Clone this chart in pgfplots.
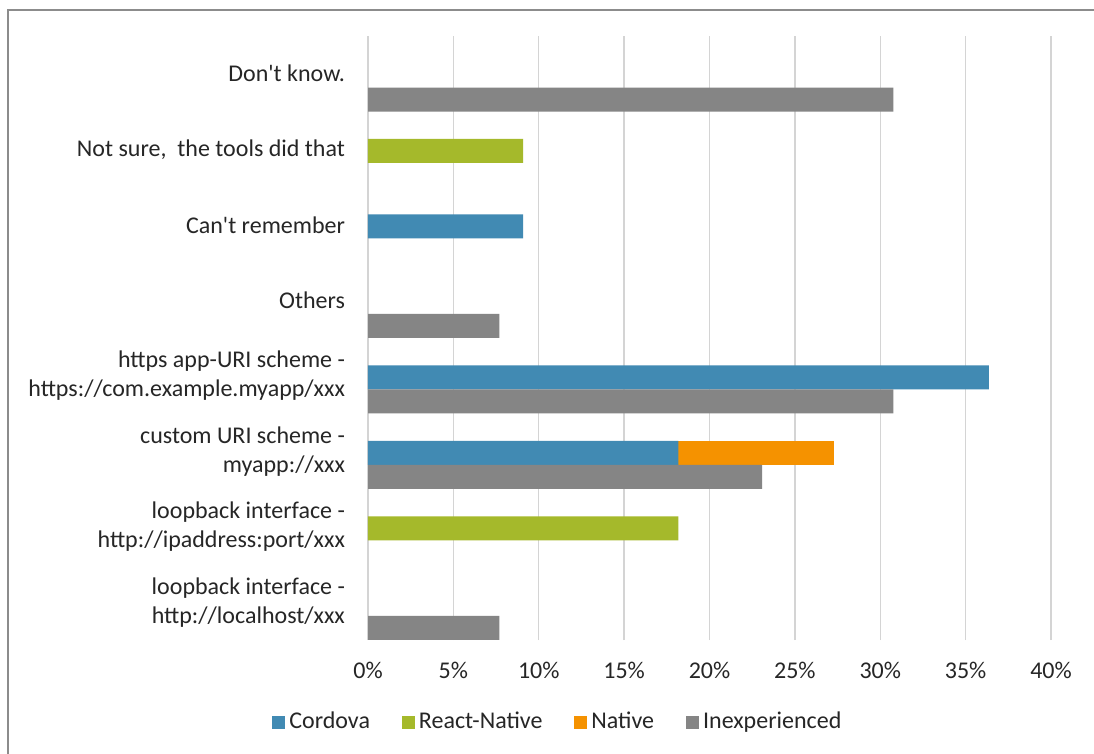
\documentclass[border=0pt]{standalone}
\usepackage{pgfplots}
\usepackage{pgfplotstable}
\pgfplotsset{compat=1.18}
\usepackage{fontspec}
\setmainfont{Carlito}
\definecolor{cordova}{HTML}{418AB3}
\definecolor{react}{HTML}{A5B92B}
\definecolor{native}{HTML}{F59200}
\definecolor{inexp}{HTML}{858585}
\definecolor{gridc}{HTML}{D4D4D4}
\definecolor{framec}{HTML}{8C8C8C}
\definecolor{txt}{HTML}{262626}

\pgfplotstableread{
y C R N
-0.023 0 0 0
0.977 0 18.18 0
1.977 18.18 0 9.09
2.977 36.36 0 0
3.977 0 0 0
4.977 9.09 0 0
5.977 0 9.09 0
6.977 0 0 0
}\stackdata

\pgfplotstableread{
y I
-0.341 7.69
1.659 23.08
2.659 30.77
3.659 7.69
6.659 30.77
}\inexpdata

\pgfplotsset{mybase/.style={
  width=341.5bp, height=302bp, scale only axis,
  xmin=0, xmax=40, ymin=-0.5, ymax=7.5,
  anchor=south west, at={(0bp,0bp)},
}}

\newcommand{\lbl}{\fontsize{12bp}{14.5bp}\selectfont}

\begin{document}
\begin{tikzpicture}
\useasboundingbox (-184bp,-57bp) rectangle (363bp,320bp);
\fill[white] (-184bp,-57bp) rectangle (363bp,320bp);
\draw[framec, line width=1bp] (-180bp,-60bp) -- (-180bp,315bp) -- (366bp,315bp);

\begin{axis}[mybase,
  xbar stacked, bar width=12bp,
  axis line style={draw=none},
  major tick length=0pt,
  xmajorgrids, grid style={gridc, line width=0.7bp},
  xtick={0,5,...,40},
  xticklabels={0\%,5\%,10\%,15\%,20\%,25\%,30\%,35\%,40\%},
  ytick={0,...,7},
  yticklabels={
    {loopback interface -\\http://localhost/xxx},
    {loopback interface -\\http://ipaddress:port/xxx},
    {custom URI scheme -\\myapp://xxx},
    {https app-URI scheme -\\https://com.example.myapp/xxx},
    {Others},
    {Can\textquotesingle t remember},
    {Not sure,~ the tools did that},
    {Don\textquotesingle t know.}},
  yticklabel style={align=right, font=\lbl, text=txt, xshift=-8bp},
  xticklabel style={font=\lbl, text=txt, yshift=-7.5bp},
  legend columns=4,
  legend style={at={(0.2795,-0.1358)}, anchor=center, draw=none, fill=none,
    font=\lbl, text=txt,
    /tikz/every even column/.append style={column sep=14bp}},
  legend image code/.code={\fill[#1] (-1bp,-3.25bp) rectangle (5.5bp,3.25bp);},
]
\addplot[fill=cordova, draw=none] table[x=C, y=y] {\stackdata};
\addplot[fill=react, draw=none] table[x=R, y=y] {\stackdata};
\addplot[fill=native, draw=none] table[x=N, y=y] {\stackdata};
\addlegendimage{fill=inexp, draw=none}
\legend{Cordova, React-Native, Native, Inexperienced}
\end{axis}

\begin{axis}[mybase, hide axis, xbar, bar width=12bp]
\addplot[fill=inexp, draw=none] table[x=I, y=y] {\inexpdata};
\end{axis}
\end{tikzpicture}
\end{document}
